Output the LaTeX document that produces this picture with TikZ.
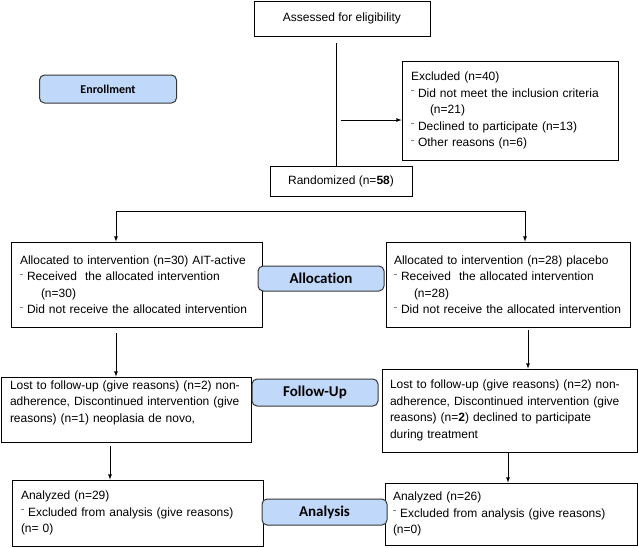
\documentclass[tikz,border=0pt]{standalone}
\usepackage{fontspec}
\usepackage{tikz}
\usepackage{xcolor}
\usetikzlibrary{shapes, arrows, positioning}
\setmainfont{Liberation Sans}
\newfontfamily\tagfont[Ligatures=NoCommon]{Carlito}
\definecolor{tagblue}{RGB}{192,216,250}
\definecolor{tagline}{RGB}{55,55,55}
\newcommand{\bul}{\raisebox{1.0ex}{\textcolor{gray}{\rule{2.5pt}{0.7pt}}}\hspace{4.5pt}}

\begin{document}
\begin{tikzpicture}[-,>=stealth', line width=0.8pt, x=1pt, y=-1pt,
        box/.style={draw, rectangle, align=left, inner xsep=9pt, inner ysep=0pt, font=\fontsize{12}{16.5}\selectfont},
        tag/.style={draw=tagline, fill=tagblue, rounded corners=5pt, line width=1pt, inner sep=0pt}]
        \useasboundingbox (0,0) rectangle (638,547);
        % enrollment
        \node [box, align=center, minimum width=176pt, minimum height=35pt] (assess) at (342, 18.5) {Assessed for eligibility};
        \node [box, text width=198pt, minimum height=99pt] (excl) at (510, 110.5) {Excluded (n=40)\\
            \bul Did not meet the inclusion criteria\\
            \hspace*{19pt}(n=21)\\
            \bul Declined to participate (n=13)\\
            \bul Other reasons (n=6)};
        \node [box, align=center, minimum width=142pt, minimum height=30pt] (rand) at (341, 181) {Randomized (n=\textbf{58})};
        % allocation
        \node [box, text width=233pt, minimum height=85pt] (alloca) at (136.5, 284.5) {Allocated to intervention (n=30) AIT-active\\
            \bul Received\ \ the allocated intervention\\
            \hspace*{21pt}(n=30)\\
            \bul Did not receive the allocated intervention};
        \node [box, inner xsep=8pt, text width=228pt, minimum height=85pt] (allocb) at (508, 284.5) {Allocated to intervention (n=28) placebo\\
            \bul Received\ \ the allocated intervention\\
            \hspace*{20pt}(n=28)\\
            \bul Did not receive the allocated intervention};
        % follow-up
        \node [box, text width=232pt, minimum height=65pt] (losta) at (126, 409.5) {Lost to follow-up (give reasons) (n=2) non-\\
            adherence, Discontinued intervention (give\\
            reasons) (n=1) neoplasia de novo,\\
            \mbox{}};
        \node [box, inner xsep=8pt, text width=239pt, minimum height=83pt] (lostb) at (509.5, 410.5) {Lost to follow-up (give reasons) (n=2) non-\\
            adherence, Discontinued intervention (give\\
            reasons) (n=\textbf{2}) declined to participate\\
            during treatment};
        % analysis
        \node [box, text width=233pt, minimum height=66pt] (anaa) at (137.5, 513) {Analyzed (n=29)\\
            \bul Excluded from analysis (give reasons)\\
            (n= 0)};
        \node [box, inner xsep=8pt, text width=236pt, minimum height=62pt] (anab) at (511, 514) {Analyzed (n=26)\\
            \bul Excluded from analysis (give reasons)\\
            (n=0)};
        % stage tags
        \node [tag, minimum width=137pt, minimum height=28pt, font=\tagfont\bfseries\fontsize{12}{14}\selectfont] (enroll) at (108, 89) {Enrollment};
        \node [tag, minimum width=126pt, minimum height=25pt, font=\tagfont\bfseries\fontsize{15}{17}\selectfont] (alloc) at (321, 278.5) {Allocation};
        \node [tag, minimum width=126pt, minimum height=27pt, font=\tagfont\bfseries\fontsize{15}{17}\selectfont] (follow) at (315, 392.5) {Follow-Up};
        \node [tag, minimum width=125pt, minimum height=26pt, font=\tagfont\bfseries\fontsize{15}{17}\selectfont] (analysis) at (324.5, 512) {Analysis};
        % connectors
        \coordinate (top) at (336, 43);
        \coordinate (exj) at (341, 120);
        \coordinate (spl) at (116, 211);
        \coordinate (spr) at (525, 211);
        \coordinate (ma) at (116, 333);
        \coordinate (mb) at (528, 330);
        \coordinate (na) at (110, 446);
        \coordinate (nb) at (508, 453);
        \draw (top) -- (top |- rand.north);
        \draw [->, >=latex] (exj) -- (exj -| excl.west);
        \draw (spl) -- (spr);
        \draw [->, >=latex] (spl) -- (spl |- alloca.north);
        \draw [->, >=latex] (spr) -- (spr |- allocb.north);
        \draw [->, >=latex] (ma) -- (ma |- losta.north);
        \draw [->, >=latex] (mb) -- (mb |- lostb.north);
        \draw [->, >=latex] (na) -- (na |- anaa.north);
        \draw [->, >=latex] (nb) -- (nb |- anab.north);
    \end{tikzpicture}
\end{document}
